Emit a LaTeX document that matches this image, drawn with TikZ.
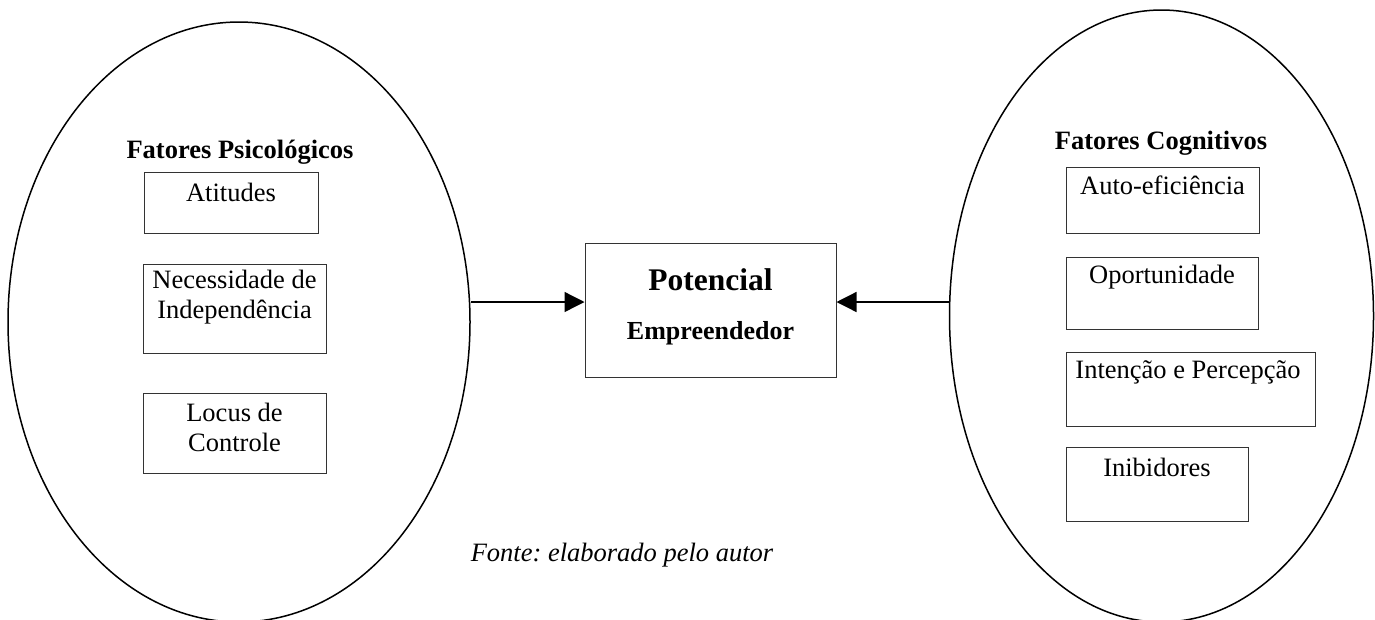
\documentclass[tikz,border=0pt]{standalone}
\usepackage{fontspec}
\setmainfont{Liberation Serif}
\frenchspacing
\usetikzlibrary{shapes.geometric,arrows.meta}
\begin{document}
\begin{tikzpicture}[x=1pt,y=-1pt,
  every node/.style={font=\fontsize{26.5}{30}\selectfont},
  oval/.style={draw=black, line width=1.5pt, ellipse, inner sep=0pt},
  factorbox/.style={draw=black!80, line width=1pt, rectangle, inner sep=0pt},
  boxtext/.style={align=center, inner sep=0pt},
  title/.style={font=\fontsize{26.5}{30}\selectfont\bfseries},
  link/.style={line width=1.3pt, -{Triangle[length=20pt,width=20pt]}}
]
\useasboundingbox (0,0) rectangle (1375,619);
% ellipses
\node[oval, minimum width=462pt, minimum height=600pt] (L) at (239,322) {};
\node[oval, minimum width=424pt, minimum height=612pt] (R) at (1161.5,316) {};
% titles
\node[title] (tl) at (240,152) {Fatores Psicológicos};
\node[title] (tr) at (1161,143) {Fatores Cognitivos};
% left boxes
\node[factorbox, minimum width=174pt, minimum height=61pt] (b1) at (231,202.5) {};
\node[boxtext] (t1) at (231,192) {Atitudes};
\node[factorbox, minimum width=183pt, minimum height=89pt] (b2) at (234.5,308.5) {};
\node[boxtext] (t2) at (234.5,297.5) {Necessidade de\\Independência};
\node[factorbox, minimum width=183pt, minimum height=80pt] (b3) at (234.5,433) {};
\node[boxtext] (t3) at (234.5,427) {Locus de\\Controle};
% right boxes
\node[factorbox, minimum width=193pt, minimum height=66pt] (r1) at (1162.5,200) {};
\node[boxtext] (s1) at (1162.5,185) {Auto-eficiência};
\node[factorbox, minimum width=192pt, minimum height=72pt] (r2) at (1162,293) {};
\node[boxtext] (s2) at (1162,277) {Oportunidade};
\node[factorbox, minimum width=249pt, minimum height=74pt] (r3) at (1190.5,389) {};
\node[boxtext] (s3) at (1188,372) {Intenção e Percepção};
\node[factorbox, minimum width=182pt, minimum height=74pt] (r4) at (1157,484) {};
\node[boxtext] (s4) at (1157,467) {Inibidores};
% centre
\node[factorbox, minimum width=251pt, minimum height=134pt] (C) at (710.5,310) {};
\node[inner sep=0pt, font=\fontsize{31.5}{34}\selectfont\bfseries] (p1) at (710.5,280) {Potencial};
\node[inner sep=0pt, font=\fontsize{26}{30}\selectfont\bfseries] (p2) at (710.5,333) {Empreendedor};
% arrows
\coordinate (cl) at ([yshift=8pt]C.west);
\coordinate (cr) at ([yshift=8pt]C.east);
\draw[link] (L.east |- cl) -- (cl);
\draw[link] (R.west |- cr) -- (cr);
% caption
\node[font=\fontsize{26.5}{30}\selectfont\itshape] (cap) at (622,555) {Fonte: elaborado pelo autor};
\end{tikzpicture}
\end{document}
